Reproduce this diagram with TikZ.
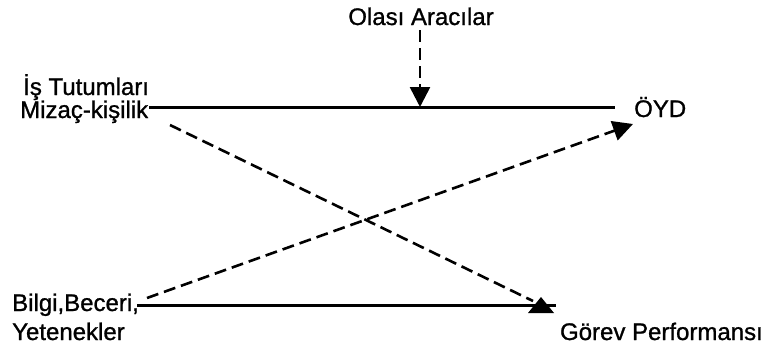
\documentclass[tikz,border=0pt]{standalone}
\usepackage{fontspec}
\setmainfont[FakeBold=1]{Liberation Sans}
\usetikzlibrary{arrows.meta}
\begin{document}
\begin{tikzpicture}[x=1pt,y=-1pt,
  lbl/.style={inner sep=0pt,font=\fontsize{24}{28}\selectfont},
  solidline/.style={line width=3pt},
  dashline/.style={line width=2.6pt,dash pattern=on 12pt off 6pt},
  tip/.style={-{Triangle[length=20pt,width=20pt]}}]
\useasboundingbox (0,0) rectangle (767,348);
% labels
\node[lbl,anchor=base] (olasi) at (421,25) {Olası Aracılar};
\node[lbl,anchor=base west] (is) at (23,95) {İş Tutumları};
\node[lbl,anchor=base west] (mizac) at (20,118) {Mizaç-kişilik};
\node[lbl,anchor=base west] (oyd) at (634,117) {ÖYD};
\node[lbl,anchor=base west] (bilgi) at (12,311) {Bilgi,Beceri,};
\node[lbl,anchor=base west] (yet) at (12,340) {Yetenekler};
\node[lbl,anchor=base east] (gorev) at (763,340) {Görev Performansı};
% anchor coordinates
\coordinate (topL) at (149,107);
\coordinate (topR) at (615,107);
\coordinate (topM) at (420,107);
\coordinate (olasiS) at (420,30);
\coordinate (botL) at (137,305);
\coordinate (botR) at (556,305);
\coordinate (d1S) at (170,125);
\coordinate (d1E) at (533,301);
\coordinate (d2S) at (147,298);
\coordinate (d2E) at (633,124);
% solid lines
\draw[solidline] (topL) -- (topR);
\draw[solidline] (botL) -- (botR);
% moderator arrow
\draw[dashline,tip] (olasiS) -- (topM);
% cross dashed arrows
\draw[dashline] (d1S) -- (d1E);
\draw[dashline,tip] (d2S) -- (d2E);
% upward triangle on bottom line
\fill (541,297) -- (554,313) -- (528,313) -- cycle;
\end{tikzpicture}
\end{document}
